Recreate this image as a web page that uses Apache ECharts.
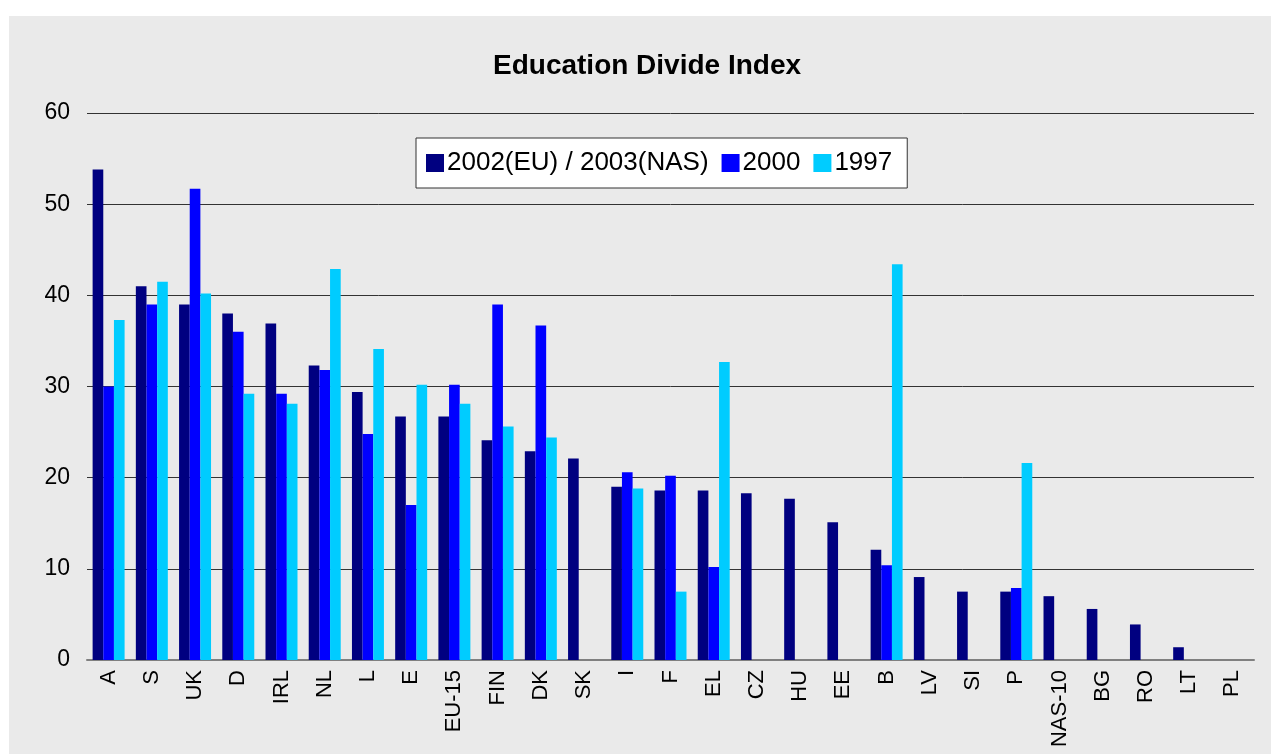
<!DOCTYPE html>
<html>
<head>
<meta charset="utf-8">
<script src="https://cdn.jsdelivr.net/npm/echarts@6/dist/echarts.min.js"></script>
<style>
  html, body { margin: 0; padding: 0; background: #ffffff; }
  #chart { position: absolute; left: 9px; top: 16px; width: 1262px; height: 738px; }
</style>
</head>
<body>
<div id="chart"></div>
<script>
// categories along the x axis
var countries = ["A","S","UK","D","IRL","NL","L","E","EU-15","FIN","DK","SK","I","F","EL","CZ","HU","EE","B","LV","SI","P","NAS-10","BG","RO","LT","PL"];
// 2002 (EU) / 2003 (NAS)
var val2002 = [53.8,41.0,39.0,38.0,36.9,32.3,29.4,26.7,26.7,24.1,22.9,22.1,19.0,18.6,18.6,18.3,17.7,15.1,12.1,9.1,7.5,7.5,7.0,5.6,3.9,1.4,0];
// 2000
var val2000 = [30.0,39.0,51.7,36.0,29.2,31.8,24.8,17.0,30.2,39.0,36.7,null,20.6,20.2,10.2,null,null,null,10.4,null,null,7.9,null,null,null,null,null];
// 1997
var val1997 = [37.3,41.5,40.2,29.2,28.1,42.9,34.1,30.2,28.1,25.6,24.4,null,18.8,7.5,32.7,null,null,null,43.4,null,null,21.6,null,null,null,null,null];
var yTicks = [0, 60, 10]; // min, max, interval

var myChart = echarts.init(document.getElementById('chart'));
var option = {
    backgroundColor: '#eaeaea',
    animation: false,
    textStyle: { fontFamily: 'Liberation Sans, Arial, sans-serif' },
    title: {
        text: 'Education Divide Index',
        left: 484,
        top: 36,
        padding: 0,
        textStyle: { fontSize: 28, fontWeight: 'bold', color: '#000' }
    },
    legend: {
        left: 407,
        top: 122,
        backgroundColor: '#ffffff',
        borderColor: '#333',
        borderWidth: 1,
        borderRadius: 0,
        padding: [12, 15, 12, 10],
        itemWidth: 18,
        itemHeight: 18,
        itemGap: 13,
        icon: 'rect',
        textStyle: { fontSize: 26, color: '#000', padding: [0, 0, 0, -2] },
        data: ['2002(EU) / 2003(NAS)', '2000', '1997']
    },
    grid: { left: 78, right: 17, top: 97, bottom: 94, containLabel: false },
    xAxis: {
        type: 'category',
        data: countries,
        axisLine: { lineStyle: { color: '#808080', width: 2 } },
        axisTick: { show: false },
        axisLabel: { rotate: 90, interval: 0, fontSize: 22, color: '#000', margin: 10 }
    },
    yAxis: {
        type: 'value',
        min: yTicks[0],
        max: yTicks[1],
        interval: yTicks[2],
        axisLine: { show: false },
        axisTick: { show: false },
        axisLabel: { fontSize: 23, color: '#000', margin: 17 },
        splitLine: { lineStyle: { color: '#333', width: 1 } }
    },
    series: [
        { name: '2002(EU) / 2003(NAS)', type: 'bar', data: val2002, barGap: '0%', barCategoryGap: '26%', itemStyle: { color: '#000080' } },
        { name: '2000', type: 'bar', data: val2000, itemStyle: { color: '#0000ff' } },
        { name: '1997', type: 'bar', data: val1997, itemStyle: { color: '#00ccff' } }
    ]
};
myChart.setOption(option);
</script>
</body>
</html>
